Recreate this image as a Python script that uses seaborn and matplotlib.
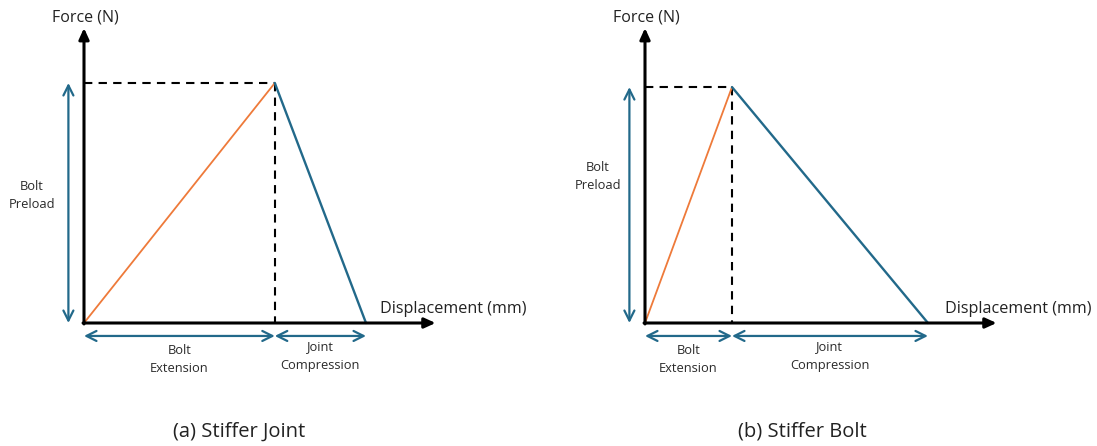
import matplotlib
matplotlib.use("Agg")
import matplotlib.pyplot as plt
import seaborn as sns
import pandas as pd

# Force–displacement joint diagrams for a preloaded bolted joint
panel_titles = ["(a) Stiffer Joint", "(b) Stiffer Bolt"]
preload = [1.0, 0.983]          # bolt preload (normalised force)
bolt_extension = [0.795, 0.3625]  # bolt stretch at preload
joint_compression = [0.38, 0.8165]  # joint shortening at preload

member_colors = {"Bolt": "#EE7A3A", "Joint": "#22698A"}
arrow_blue = "#22698A"

sns.set_theme(style="white")
plt.rcParams["font.family"] = ["Open Sans", "DejaVu Sans"]

W, H = 1097, 446
fig = plt.figure(figsize=(W / 100, H / 100), dpi=100)

scale = 240.0  # pixels per data unit
origins = [(84, 323), (645, 323)]
spans = [(0, 548), (548, W)]

for i in range(2):
    ox, oy = origins[i]
    x0, x1 = spans[i]
    ax = fig.add_axes([x0 / W, 0, (x1 - x0) / W, 1])
    ax.set_xlim((x0 - ox) / scale, (x1 - ox) / scale)
    ax.set_ylim(-(H - oy) / scale, oy / scale)
    ax.axis("off")

    F = preload[i]
    db = bolt_extension[i]
    dj = joint_compression[i]
    end = db + dj

    df = pd.DataFrame({
        "member": ["Bolt", "Bolt", "Joint", "Joint"],
        "displacement": [0.0, db, db, end],
        "force": [0.0, F, F, 0.0],
    })
    sns.lineplot(data=df[df.member == "Bolt"], x="displacement", y="force",
                 color=member_colors["Bolt"], lw=1.3, estimator=None,
                 sort=False, ax=ax, legend=False, zorder=3)
    sns.lineplot(data=df[df.member == "Joint"], x="displacement", y="force",
                 color=member_colors["Joint"], lw=1.7, estimator=None,
                 sort=False, ax=ax, legend=False, zorder=3)

    # dashed guides to the preload point
    ax.plot([0, db], [F, F], color="black", lw=1.5, ls=(0, (4, 3)), zorder=2)
    ax.plot([db, db], [F, 0], color="black", lw=1.5, ls=(0, (4, 3)), zorder=2)

    # coordinate axes with arrowheads
    axis_style = dict(arrowstyle="-|>,head_length=0.55,head_width=0.25",
                      color="black", lw=2.2, shrinkA=0, shrinkB=0)
    ax.annotate("", xy=(0, 1.229), xytext=(0, -0.004), arrowprops=axis_style)
    ax.annotate("", xy=(1.465, 0), xytext=(-0.004, 0), arrowprops=axis_style)

    # dimension arrows
    dim_style = dict(arrowstyle="<->,head_length=0.6,head_width=0.3",
                     color=arrow_blue, lw=1.6, shrinkA=0, shrinkB=0)
    px = -0.065
    ax.annotate("", xy=(px, F), xytext=(px, 0), arrowprops=dim_style)
    yb = -0.054
    ax.annotate("", xy=(0, yb), xytext=(db, yb), arrowprops=dim_style)
    ax.annotate("", xy=(db, yb), xytext=(end, yb), arrowprops=dim_style)

    # labels
    small = dict(fontsize=9.3, color="#2a2a2a", ha="center", va="center",
                 linespacing=1.5)
    label_y = [0.533, 0.61][i]
    label_x = [-0.217, -0.196][i]
    ax.text(label_x, label_y, "Bolt\nPreload", **small)
    ax.text(db / 2, -0.15, "Bolt\nExtension", **small)
    ax.text(db + dj / 2, -0.1375, "Joint\nCompression", **small)

    ax.text(0.004, 1.275, "Force (N)", fontsize=11.5, color="#222222",
            ha="center", va="center")
    ax.text([1.233, 1.25][i], 0.058, "Displacement (mm)", fontsize=11.6,
            color="#222222", ha="left", va="center")
    ax.text([0.646, 0.654][i], -0.454, panel_titles[i], fontsize=14.5,
            color="#222222", ha="center", va="center")

fig.savefig("out.png", dpi=100, facecolor="white")
